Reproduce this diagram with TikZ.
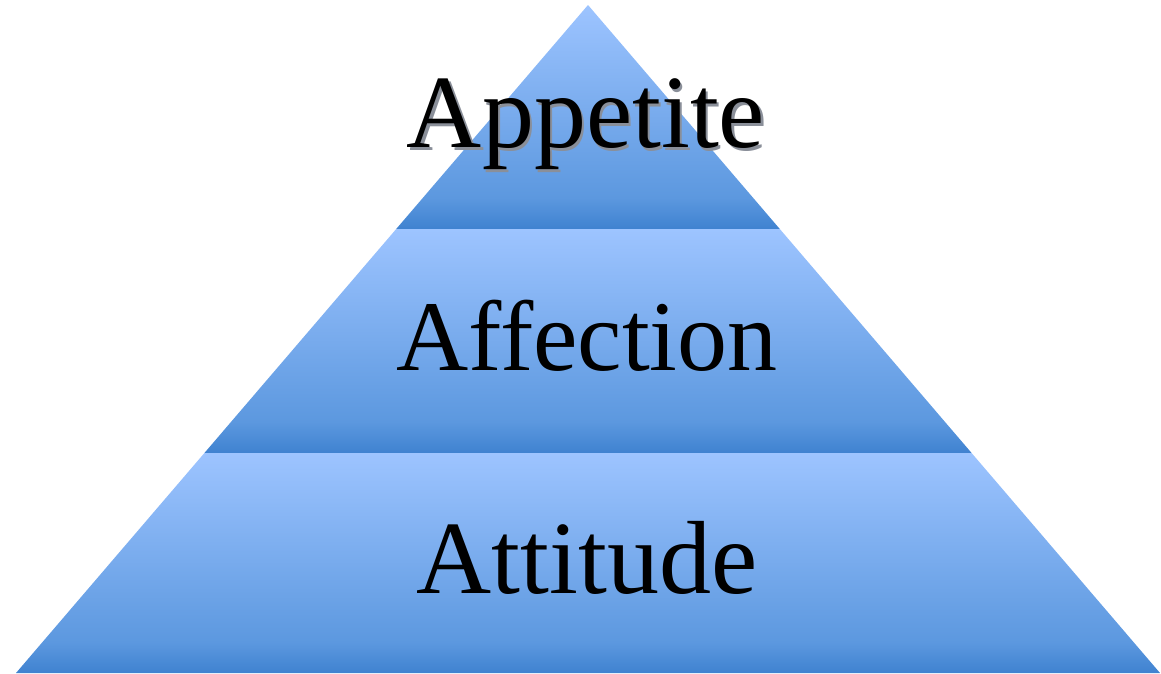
\documentclass[tikz,border=0pt]{standalone}
\usepackage{fontspec}
\setmainfont{Liberation Serif}
\definecolor{dk}{HTML}{3F82D0}
\definecolor{md}{HTML}{5C98DF}
\definecolor{lt}{HTML}{9DC4FF}
\definecolor{shadowgray}{HTML}{8A8F99}
\pgfdeclareverticalshading{layershade}{100bp}{color(0bp)=(dk); color(25bp)=(dk); color(32bp)=(md); color(75bp)=(lt); color(100bp)=(lt)}
\newcommand{\shadowed}[1]{\rlap{\kern2.5pt\raisebox{-3.5pt}{\textcolor{shadowgray}{#1}}}#1}
\begin{document}
\begin{tikzpicture}[x=1pt,y=-1pt,
  layer/.style={shading=layershade, draw=none},
  lbl/.style={anchor=base, inner sep=0pt, font=\fontsize{100}{100}\selectfont},
  widelbl/.style={lbl, font=\fontsize{104}{104}\selectfont}]
\useasboundingbox (0,0) rectangle (1161,673);
\coordinate (apex) at (588,5);
\coordinate (l1) at (396.2,229);
\coordinate (r1) at (779.8,229);
\coordinate (l2) at (204.4,453);
\coordinate (r2) at (971.6,453);
\coordinate (bl) at (16,673);
\coordinate (br) at (1160,673);
\shade[layer] (apex) -- (r1) -- (l1) -- cycle;
\shade[layer] (l1) -- (r1) -- (r2) -- (l2) -- cycle;
\shade[layer] (l2) -- (r2) -- (br) -- (bl) -- cycle;
\node[widelbl] (appetite) at (586,147) {\shadowed{Appetite}};
\node[lbl] (affection) at (587,370) {Affection};
\node[widelbl] (attitude) at (587,593) {Attitude};
\end{tikzpicture}
\end{document}
